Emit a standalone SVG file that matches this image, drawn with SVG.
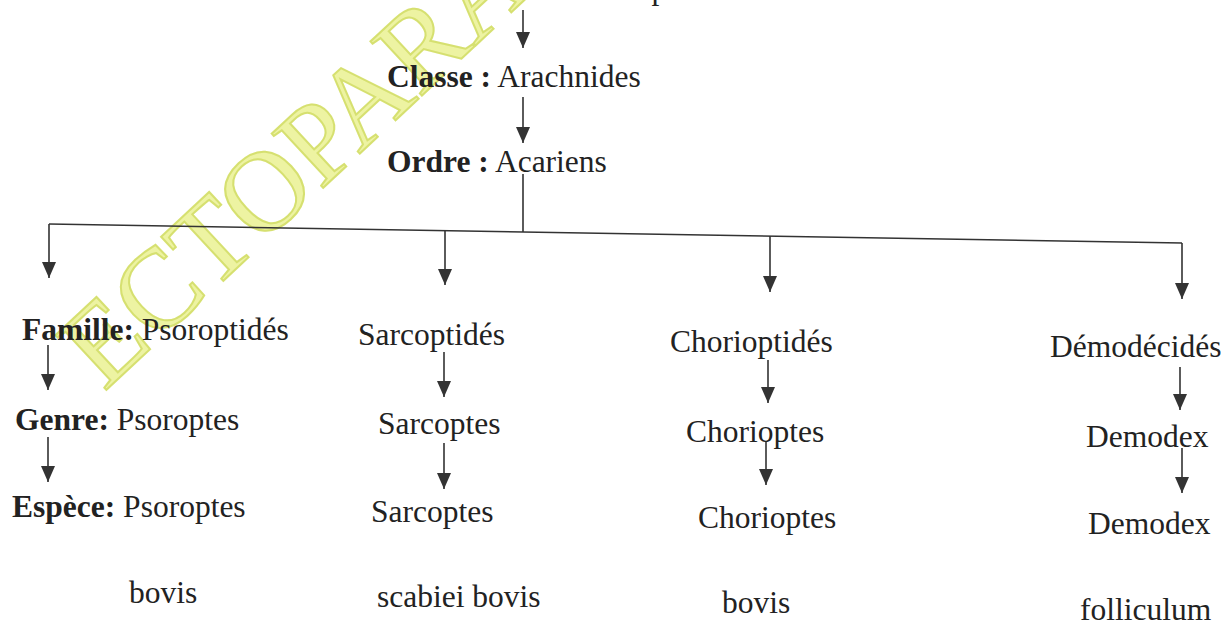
<svg xmlns="http://www.w3.org/2000/svg" width="1230" height="623" viewBox="0 0 1230 623">
<defs>
<marker id="ah" markerUnits="userSpaceOnUse" markerWidth="16" markerHeight="14" viewBox="0 -7 16 14" refX="16" refY="0" orient="auto">
<path d="M0,-7 L16,0 L0,7 z" fill="#333"/>
</marker>
<style>
.t{font-family:"Liberation Serif","Times New Roman",serif;font-size:31.5px;fill:#222}
.b{font-weight:bold}
.c{stroke:#333;stroke-width:1.6;fill:none}
.a{marker-end:url(#ah)}
.wm{font-family:"Liberation Serif","Times New Roman",serif;font-size:114px;fill:#edf3a2;stroke:#d6e070;stroke-width:2}
</style>
</defs>
<rect width="1230" height="623" fill="#fff"/>
<text class="wm" transform="translate(104,392) rotate(-43)">ECTOPARASITES</text>
<g id="connectors">
<line class="c a" x1="523" y1="10" x2="523" y2="48"/>
<line class="c a" x1="523" y1="97" x2="523" y2="143"/>
<line class="c" x1="523" y1="174" x2="523" y2="232"/>
<path class="c" d="M49,224 L1182,243"/>
<line class="c a" x1="49" y1="224" x2="49" y2="278"/>
<line class="c a" x1="445" y1="231" x2="445" y2="285"/>
<line class="c a" x1="770" y1="236" x2="770" y2="292"/>
<line class="c a" x1="1182" y1="243" x2="1182" y2="299"/>
<line class="c a" x1="48" y1="345" x2="48" y2="390"/>
<line class="c a" x1="48" y1="437" x2="48" y2="482"/>
<line class="c a" x1="444" y1="352" x2="444" y2="397"/>
<line class="c a" x1="444" y1="443" x2="444" y2="489"/>
<line class="c a" x1="768" y1="360" x2="768" y2="403"/>
<line class="c a" x1="766" y1="442" x2="766" y2="485"/>
<line class="c a" x1="1180" y1="367" x2="1180" y2="410"/>
<line class="c a" x1="1182" y1="448" x2="1182" y2="493"/>
</g>
<g id="embranchement"><text class="t" x="725" y="-1" text-anchor="end"><tspan class="b">Embranchement :</tspan> Arthropodes</text></g>
<g id="classe"><text class="t" x="387" y="87"><tspan class="b">Classe :</tspan> Arachnides</text></g>
<g id="ordre"><text class="t" x="387" y="172"><tspan class="b">Ordre :</tspan> Acariens</text></g>
<g id="famille1"><text class="t" x="22" y="340"><tspan class="b">Famille:</tspan> Psoroptidés</text></g>
<g id="genre1"><text class="t" x="15" y="430"><tspan class="b">Genre:</tspan> Psoroptes</text></g>
<g id="espece1"><text class="t" x="12" y="517"><tspan class="b">Espèce:</tspan> Psoroptes</text><text class="t" x="129" y="603">bovis</text></g>
<g id="famille2"><text class="t" x="358" y="345">Sarcoptidés</text></g>
<g id="genre2"><text class="t" x="378" y="434">Sarcoptes</text></g>
<g id="espece2"><text class="t" x="371" y="522">Sarcoptes</text><text class="t" x="377" y="607">scabiei bovis</text></g>
<g id="famille3"><text class="t" x="670" y="352">Chorioptidés</text></g>
<g id="genre3"><text class="t" x="686" y="442">Chorioptes</text></g>
<g id="espece3"><text class="t" x="698" y="528">Chorioptes</text><text class="t" x="722" y="613">bovis</text></g>
<g id="famille4"><text class="t" x="1050" y="357">Démodécidés</text></g>
<g id="genre4"><text class="t" x="1086" y="447">Demodex</text></g>
<g id="espece4"><text class="t" x="1088" y="534">Demodex</text><text class="t" x="1080" y="620">folliculum</text></g>
</svg>
